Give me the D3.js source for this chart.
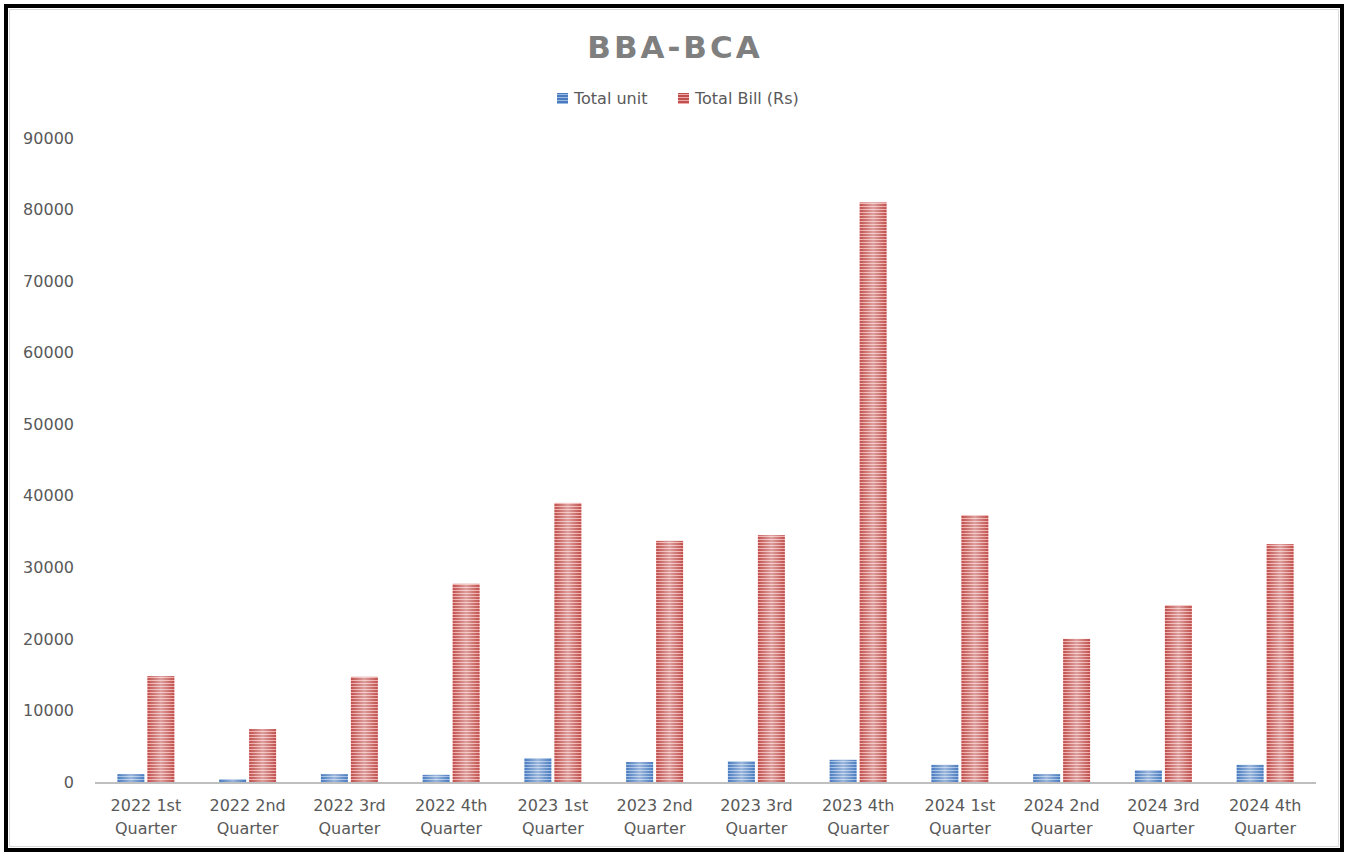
<!DOCTYPE html>
<html>
<head>
<meta charset="utf-8">
<script src="https://cdn.jsdelivr.net/npm/d3@7"></script>
<style>
  body { margin: 0; background: #fff; }
  svg { display: block; font-family: "DejaVu Sans", Verdana, sans-serif; }
</style>
</head>
<body>
<div id="chart"></div>
<script>
const categories = [
  ["2022 1st", "Quarter"], ["2022 2nd", "Quarter"], ["2022 3rd", "Quarter"], ["2022 4th", "Quarter"],
  ["2023 1st", "Quarter"], ["2023 2nd", "Quarter"], ["2023 3rd", "Quarter"], ["2023 4th", "Quarter"],
  ["2024 1st", "Quarter"], ["2024 2nd", "Quarter"], ["2024 3rd", "Quarter"], ["2024 4th", "Quarter"]
];
const totalUnit = [1100, 400, 1100, 1000, 3350, 2800, 2900, 3100, 2400, 1100, 1650, 2400];
const totalBill = [14800, 7400, 14700, 27700, 39000, 33700, 34500, 81000, 37300, 20000, 24700, 33250];
const seriesNames = ["Total unit", "Total Bill (Rs)"];
const yTicks = [0, 10000, 20000, 30000, 40000, 50000, 60000, 70000, 80000, 90000];

const W = 1348, H = 852;
const margin = {top: 138, right: 32, bottom: 70, left: 95};

let svg = d3.select("#chart").append("svg").attr("width", W).attr("height", H);
let defs = svg.append("defs");

let colors = [
  {id: "blue", dark: "#4a7bbf", light: "#9bbbe3"},
  {id: "red", dark: "#c0504d", light: "#eeaaa8"}
];

colors.forEach(function(c) {
  let p = defs.append("pattern")
    .attr("id", "stripe-" + c.id)
    .attr("patternUnits", "userSpaceOnUse")
    .attr("width", 8).attr("height", 3);
  p.append("rect").attr("width", 8).attr("height", 3).attr("fill", c.light);
  p.append("rect").attr("width", 8).attr("height", 2).attr("fill", c.dark);

  let g = defs.append("linearGradient")
    .attr("id", "sheen-" + c.id)
    .attr("x1", "0%").attr("x2", "100%").attr("y1", "0%").attr("y2", "0%");
  g.append("stop").attr("offset", "0%").attr("stop-color", "#fff").attr("stop-opacity", 0);
  g.append("stop").attr("offset", "50%").attr("stop-color", "#fff").attr("stop-opacity", 0.45);
  g.append("stop").attr("offset", "100%").attr("stop-color", "#fff").attr("stop-opacity", 0);
});

// outer frame
svg.append("rect")
  .attr("x", 6).attr("y", 6).attr("width", W - 12).attr("height", H - 8)
  .attr("fill", "#fff").attr("stroke", "#000").attr("stroke-width", 4);
svg.append("rect")
  .attr("x", 9.5).attr("y", 9.5).attr("width", W - 19).attr("height", H - 15)
  .attr("fill", "none").attr("stroke", "#d9d9d9").attr("stroke-width", 1);

let x = d3.scaleBand()
  .domain(d3.range(categories.length))
  .range([margin.left, W - margin.right])
  .paddingInner(0.44).paddingOuter(0.22);

let x1 = d3.scaleBand()
  .domain([0, 1])
  .range([0, x.bandwidth()])
  .paddingInner(0.1);

let y = d3.scaleLinear()
  .domain([0, 90000])
  .range([H - margin.bottom, margin.top]);

// title
svg.append("text")
  .attr("x", 675).attr("y", 58)
  .attr("text-anchor", "middle")
  .attr("font-size", 31).attr("font-weight", "bold")
  .attr("letter-spacing", 3)
  .attr("fill", "#7f7f7f")
  .text("BBA-BCA");

// legend
let legend = svg.append("g").attr("transform", "translate(557,98)");
let legendX = [0, 121];
seriesNames.forEach(function(name, i) {
  let lg = legend.append("g").attr("transform", "translate(" + legendX[i] + ",0)");
  lg.append("rect").attr("x", 0).attr("y", -5).attr("width", 11).attr("height", 11)
    .attr("fill", "url(#stripe-" + colors[i].id + ")");
  lg.append("text").attr("x", 17).attr("y", 5.5)
    .attr("font-size", 16).attr("fill", "#595959")
    .text(name);
});

// y axis labels
let yAxis = svg.append("g")
  .attr("transform", "translate(" + (margin.left - 18) + ",0)")
  .call(d3.axisLeft(y).tickValues(yTicks).tickSize(0).tickFormat(d3.format("d")));
yAxis.select(".domain").remove();
yAxis.selectAll("text").attr("font-size", 16).attr("fill", "#595959")
  .attr("font-family", "'DejaVu Sans', Verdana, sans-serif");

// bars
let groups = svg.selectAll("g.cat")
  .data(categories.map(function(c, i) { return {i: i, vals: [totalUnit[i], totalBill[i]]}; }))
  .enter().append("g")
  .attr("class", "cat")
  .attr("transform", function(d) { return "translate(" + x(d.i) + ",0)"; });

[0, 1].forEach(function(s) {
  groups.append("rect")
    .attr("x", x1(s)).attr("width", x1.bandwidth())
    .attr("y", function(d) { return y(d.vals[s]); })
    .attr("height", function(d) { return y(0) - y(d.vals[s]); })
    .attr("fill", "url(#stripe-" + colors[s].id + ")");
  groups.append("rect")
    .attr("x", x1(s)).attr("width", x1.bandwidth())
    .attr("y", function(d) { return y(d.vals[s]); })
    .attr("height", function(d) { return y(0) - y(d.vals[s]); })
    .attr("fill", "url(#sheen-" + colors[s].id + ")");
});

// x axis line
svg.append("line")
  .attr("x1", margin.left).attr("x2", W - margin.right)
  .attr("y1", y(0) + 1).attr("y2", y(0) + 1)
  .attr("stroke", "#bfbfbf").attr("stroke-width", 2);

// category labels
let labels = svg.selectAll("text.cat")
  .data(categories)
  .enter().append("text")
  .attr("class", "cat")
  .attr("text-anchor", "middle")
  .attr("font-size", 16).attr("fill", "#595959");
labels.each(function(d, i) {
  let t = d3.select(this);
  t.append("tspan").attr("x", x(i) + x.bandwidth() / 2).attr("y", 811).text(d[0]);
  t.append("tspan").attr("x", x(i) + x.bandwidth() / 2).attr("y", 834).text(d[1]);
});
</script>
</body>
</html>
